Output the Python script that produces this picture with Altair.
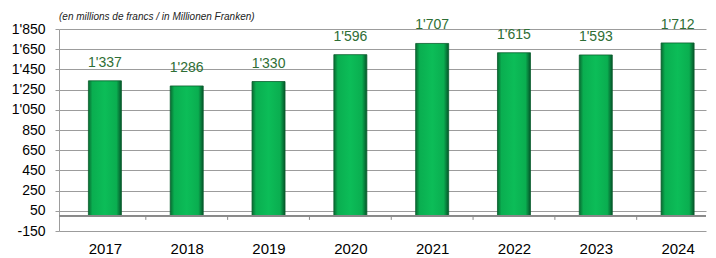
import altair as alt
import pandas as pd

years = [2017, 2018, 2019, 2020, 2021, 2022, 2023, 2024]
values = [1337, 1286, 1330, 1596, 1707, 1615, 1593, 1712]
y_ticks = [-150, 50, 250, 450, 650, 850, 1050, 1250, 1450, 1650, 1850]
boundaries = [2017.5, 2018.5, 2019.5, 2020.5, 2021.5, 2022.5, 2023.5]
subtitle = "(en millions de francs / in Millionen Franken)"

df = pd.DataFrame({"year": years, "value": values})
bdf = pd.DataFrame({"b": boundaries})

FONT = "Liberation Sans"
fmt_expr = "replace(replace(format(datum.value, ','), ',', \"'\"), '\u2212', '-')"

xscale = alt.Scale(domain=[2016.5, 2024.286], nice=False, zero=False)
yscale = alt.Scale(domain=[-150, 1850], nice=False, zero=False)

grad = alt.Gradient(
    gradient="linear", x1=0, x2=1, y1=0, y2=0,
    stops=[
        alt.GradientStop(color="#086a31", offset=0),
        alt.GradientStop(color="#0aae50", offset=0.12),
        alt.GradientStop(color="#0cbd58", offset=0.5),
        alt.GradientStop(color="#0aae50", offset=0.85),
        alt.GradientStop(color="#05552a", offset=1),
    ],
)

base = alt.Chart(df)

bars = base.mark_bar(color=grad, size=33, stroke="#0a5e2d", strokeWidth=0.8).encode(
    x=alt.X("year:Q", scale=xscale,
            axis=alt.Axis(values=years, format="d", title=None, grid=False,
                          domain=False, ticks=False, labelFontSize=15,
                          labelFont=FONT, labelColor="#000000", labelPadding=10,
                          labelOverlap=False, tickCount=len(years))),
    y=alt.Y("value:Q", scale=yscale,
            axis=alt.Axis(values=y_ticks, labelExpr=fmt_expr, title=None,
                          grid=True, gridColor="#9c9c9c", gridWidth=1,
                          domain=True, domainColor="#9c9c9c",
                          ticks=True, tickSize=4, tickColor="#9c9c9c",
                          labelFontSize=14, labelFont=FONT, labelColor="#000000",
                          labelPadding=10, labelOverlap=False,
                          tickCount=len(y_ticks))),
    y2=alt.datum(0),
)

labels = base.transform_calculate(
    lab="replace(format(datum.value, ','), ',', \"'\")"
).mark_text(fontSize=14, font=FONT, color="#2e6e35", baseline="middle", dy=-18).encode(
    x=alt.X("year:Q", scale=xscale),
    y=alt.Y("value:Q", scale=yscale),
    text="lab:N",
)

zero_line = alt.Chart(df).mark_rule(color="#8a8a8a", strokeWidth=1).encode(
    y=alt.datum(0)
)

ticks = alt.Chart(bdf).mark_rule(color="#8a8a8a", strokeWidth=1).encode(
    x=alt.X("b:Q", scale=xscale),
    y=alt.datum(0),
    y2=alt.datum(-40),
)

chart = alt.layer(bars, zero_line, ticks, labels).properties(
    width=647,
    height=202,
    padding={"left": 3, "top": 3, "right": 0, "bottom": 0},
    title=alt.TitleParams(subtitle, anchor="start", frame="group", fontSize=10,
                          fontStyle="italic", fontWeight="normal", font=FONT,
                          color="#222222", offset=-4),
).configure_view(stroke=None)

chart.save("out.html", embed_options={"renderer": "svg", "actions": False})
